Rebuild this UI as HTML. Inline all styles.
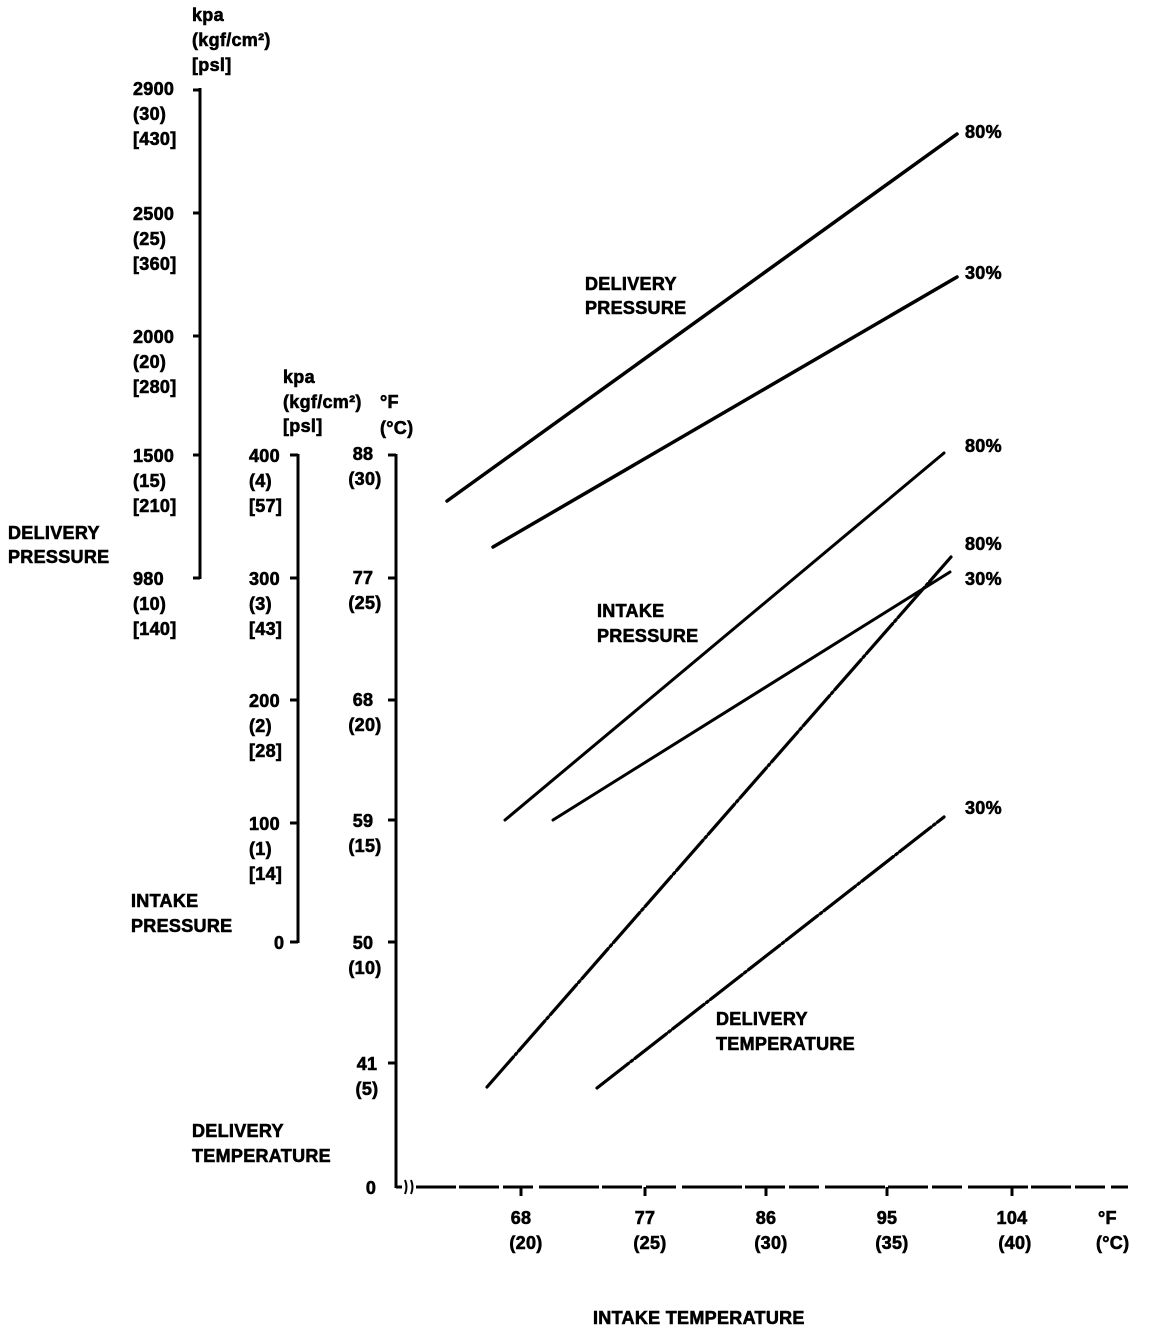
<!DOCTYPE html>
<html><head><meta charset="utf-8"><style>
html,body{margin:0;padding:0;background:#fff}
svg text{font-family:"Liberation Sans",sans-serif;font-weight:bold;font-size:18px;fill:#000;stroke:#000;stroke-width:0.6px;letter-spacing:0.3px}
</style></head><body>
<svg width="1152" height="1330" viewBox="0 0 1152 1330" xmlns="http://www.w3.org/2000/svg">
<g stroke="#000" stroke-width="3" fill="none">
<line x1="200" y1="88" x2="200" y2="579"/>
<line x1="193" y1="90" x2="200" y2="90"/><line x1="193" y1="213" x2="200" y2="213"/><line x1="193" y1="336" x2="200" y2="336"/><line x1="193" y1="455" x2="200" y2="455"/><line x1="193" y1="578" x2="200" y2="578"/>
<line x1="298" y1="454" x2="298" y2="943"/>
<line x1="290" y1="455" x2="298" y2="455"/><line x1="290" y1="578" x2="298" y2="578"/><line x1="290" y1="700" x2="298" y2="700"/><line x1="290" y1="823" x2="298" y2="823"/><line x1="290" y1="942" x2="298" y2="942"/>
<line x1="396" y1="454" x2="396" y2="1188"/>
<line x1="388" y1="455" x2="396" y2="455"/><line x1="388" y1="578" x2="396" y2="578"/><line x1="388" y1="700" x2="396" y2="700"/><line x1="388" y1="820" x2="396" y2="820"/><line x1="388" y1="942" x2="396" y2="942"/><line x1="388" y1="1063" x2="396" y2="1063"/>
<line x1="396" y1="1187" x2="1128" y2="1187" stroke-dasharray="60,3,40,4,30,6"/>
<line x1="521" y1="1187" x2="521" y2="1196"/><line x1="645" y1="1187" x2="645" y2="1196"/><line x1="766" y1="1187" x2="766" y2="1196"/><line x1="887" y1="1187" x2="887" y2="1196"/><line x1="1012" y1="1187" x2="1012" y2="1196"/>
</g>
<g stroke="#fff" stroke-width="5"><line x1="402" y1="1187" x2="416" y2="1187"/></g>
<g stroke="#000" stroke-width="2" fill="none">
<path d="M405 1180 q3 7 0 14 M411 1180 q3 7 0 14"/>
</g>
<g stroke="#000" fill="none" stroke-linecap="round">
<line x1="447" y1="501" x2="957" y2="134" stroke-width="3.5"/>
<line x1="493" y1="547" x2="957" y2="277" stroke-width="3.5"/>
<line x1="505" y1="820" x2="944" y2="453" stroke-width="3"/>
<line x1="553" y1="820" x2="950" y2="572" stroke-width="3"/>
<line x1="487" y1="1087" x2="951" y2="557" stroke-width="3.2" stroke-dasharray="40,3,2,3"/>
<line x1="597" y1="1088" x2="944" y2="817" stroke-width="3.2" stroke-dasharray="40,3,2,3"/>
</g>
<text x="192" y="21">kpa</text><text x="192" y="46">(kgf/cm²)</text><text x="192" y="71">[psl]</text>
<text x="283" y="383">kpa</text><text x="283" y="408">(kgf/cm²)</text><text x="283" y="432">[psl]</text>
<text x="380" y="408">°F</text><text x="380" y="434">(°C)</text>
<g>
<text x="133" y="95">2900</text><text x="133" y="120">(30)</text><text x="133" y="145">[430]</text>
<text x="133" y="220">2500</text><text x="133" y="245">(25)</text><text x="133" y="270">[360]</text>
<text x="133" y="343">2000</text><text x="133" y="368">(20)</text><text x="133" y="393">[280]</text>
<text x="133" y="462">1500</text><text x="133" y="487">(15)</text><text x="133" y="512">[210]</text>
<text x="133" y="585">980</text><text x="133" y="610">(10)</text><text x="133" y="635">[140]</text>
</g>
<g>
<text x="249" y="462">400</text><text x="249" y="487">(4)</text><text x="249" y="512">[57]</text>
<text x="249" y="585">300</text><text x="249" y="610">(3)</text><text x="249" y="635">[43]</text>
<text x="249" y="707">200</text><text x="249" y="732">(2)</text><text x="249" y="757">[28]</text>
<text x="249" y="830">100</text><text x="249" y="855">(1)</text><text x="249" y="880">[14]</text>
<text x="274" y="949">0</text>
</g>
<g text-anchor="middle">
<text x="363" y="460">88</text><text x="365" y="485">(30)</text>
<text x="363" y="584">77</text><text x="365" y="609">(25)</text>
<text x="363" y="706">68</text><text x="365" y="731">(20)</text>
<text x="363" y="827">59</text><text x="365" y="852">(15)</text>
<text x="363" y="949">50</text><text x="365" y="974">(10)</text>
<text x="367" y="1070">41</text><text x="367" y="1095">(5)</text>
<text x="371" y="1194">0</text>
<text x="521" y="1224">68</text><text x="526" y="1249">(20)</text>
<text x="645" y="1224">77</text><text x="650" y="1249">(25)</text>
<text x="766" y="1224">86</text><text x="771" y="1249">(30)</text>
<text x="887" y="1224">95</text><text x="892" y="1249">(35)</text>
<text x="1012" y="1224">104</text><text x="1015" y="1249">(40)</text>
</g>
<text x="1098" y="1224">°F</text><text x="1096" y="1249">(°C)</text>
<text x="965" y="138">80%</text><text x="965" y="279">30%</text><text x="965" y="452">80%</text>
<text x="965" y="550">80%</text><text x="965" y="585">30%</text><text x="965" y="814">30%</text>
<text x="585" y="290">DELIVERY</text><text x="585" y="314">PRESSURE</text>
<text x="597" y="617">INTAKE</text><text x="597" y="642">PRESSURE</text>
<text x="716" y="1025">DELIVERY</text><text x="716" y="1050">TEMPERATURE</text>
<text x="8" y="539">DELIVERY</text><text x="8" y="563">PRESSURE</text>
<text x="131" y="907">INTAKE</text><text x="131" y="932">PRESSURE</text>
<text x="192" y="1137">DELIVERY</text><text x="192" y="1162">TEMPERATURE</text>
<text x="593" y="1324">INTAKE TEMPERATURE</text>
</svg>
</body></html>
